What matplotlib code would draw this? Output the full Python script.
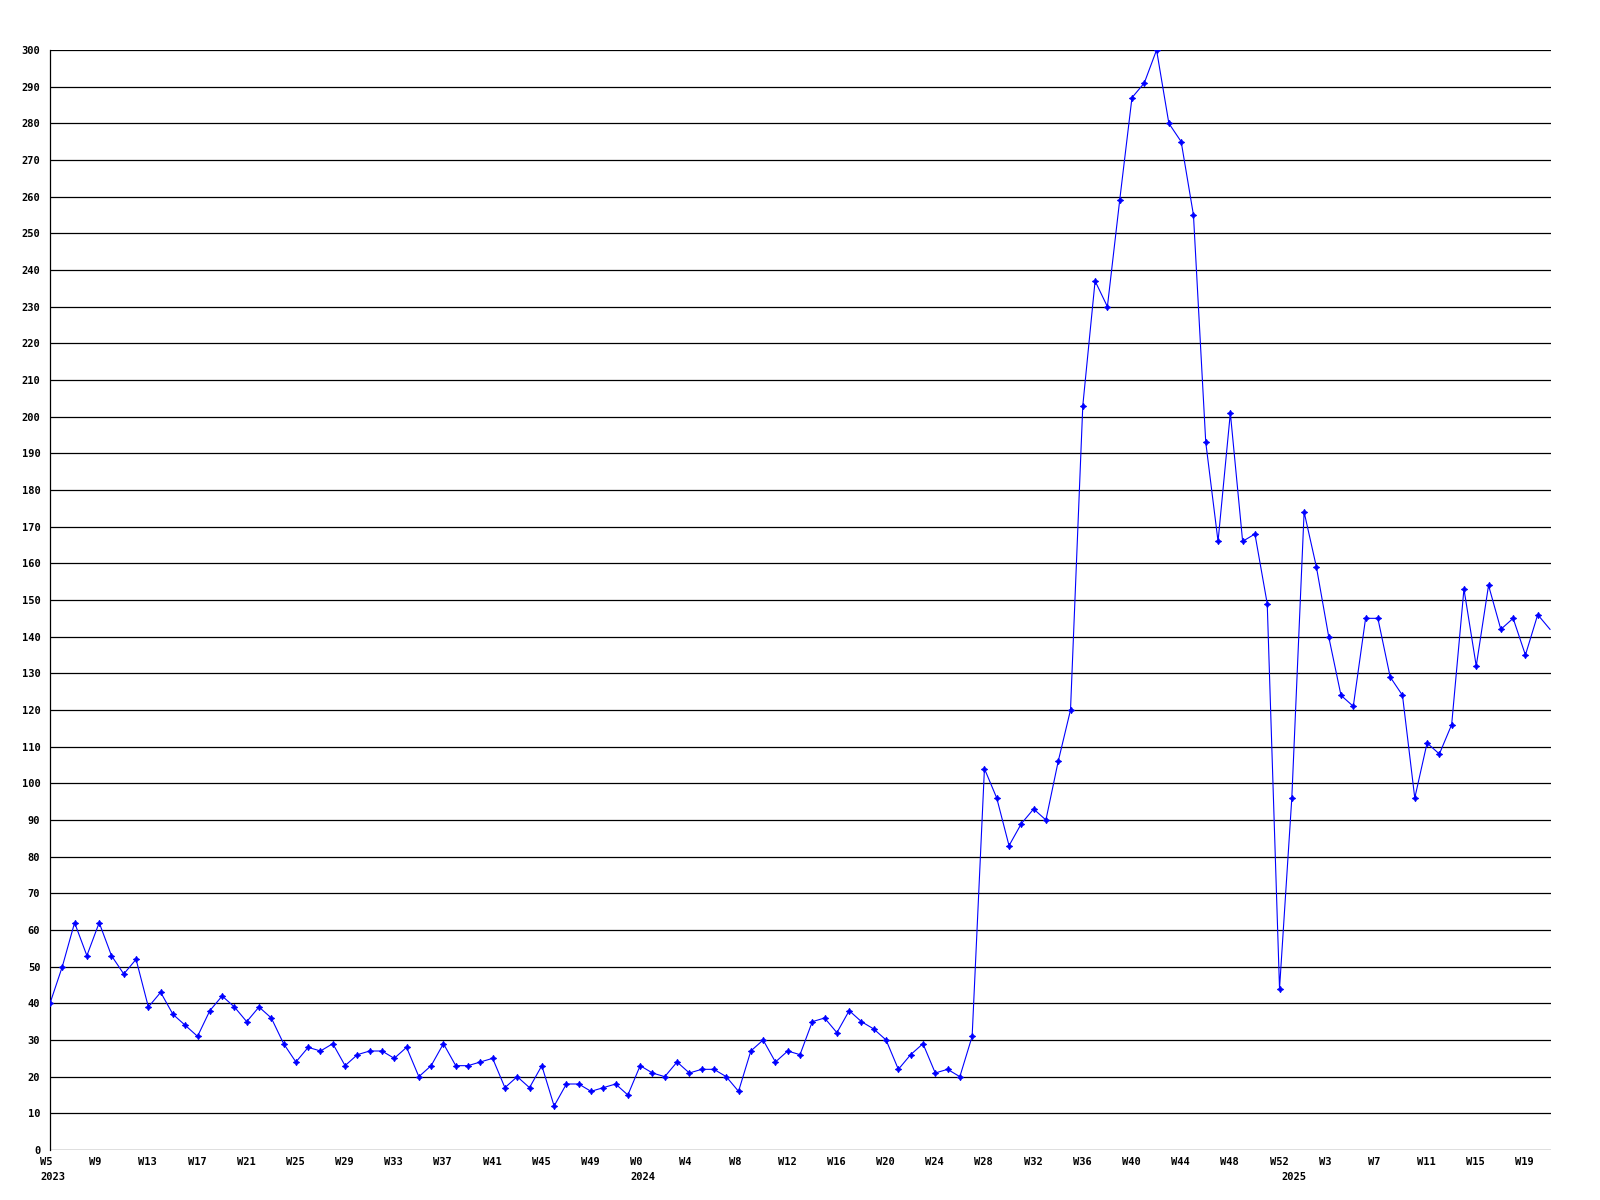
import matplotlib

matplotlib.use("Agg")
import matplotlib.pyplot as plt
from matplotlib.transforms import ScaledTranslation

# weekly values, W5 2023 .. W21 2025
weeks_2023 = list(range(5, 53))
weeks_2024 = list(range(0, 53))
weeks_2025 = list(range(0, 22))

values = [
    40, 50, 62, 53, 62, 53, 48, 52, 39, 43, 37, 34, 31, 38, 42, 39, 35, 39, 36, 29,
    24, 28, 27, 29, 23, 26, 27, 27, 25, 28, 20,
    23, 29, 23, 23, 24, 25, 17, 20, 17, 23, 12, 18, 18, 16, 17, 18, 15, 23, 21, 20,
    24, 21, 22, 22, 20, 16, 27, 30, 24, 27, 26, 35,
    36, 32, 38, 35, 33, 30, 22, 26, 29, 21, 22, 20, 31,
    104, 96, 83, 89, 93, 90, 106, 120, 203, 237, 230, 259, 287, 291, 300, 280, 275, 255,
    193, 166, 201, 166, 168, 149, 44, 96, 174, 159, 140, 124, 121, 145, 145, 129, 124,
    96, 111, 108, 116, 153, 132, 154, 142, 145, 135, 146, 142,
]

weeks = weeks_2023 + weeks_2024 + weeks_2025
years = [2023] * len(weeks_2023) + [2024] * len(weeks_2024) + [2025] * len(weeks_2025)
x = list(range(len(values)))

font = {"family": "DejaVu Sans Mono", "weight": "bold", "size": 7.5}

fig = plt.figure(figsize=(16, 12), dpi=100)
ax = fig.add_axes([50 / 1600, 50 / 1200, 1501 / 1600, 1100 / 1200])

for v in range(0, 301, 10):
    ax.axhline(v, color="black", linewidth=0.9, zorder=1)

ax.plot(x[:-1], values[:-1], color="#0000ff", linewidth=0.8, marker=(4, 1, 0),
        markersize=4.5, markeredgewidth=0.7, zorder=3)
ax.plot(x[-2:], values[-2:], color="#0000ff", linewidth=0.8, zorder=3)

ax.set_xlim(0, 122.08)
ax.set_ylim(0, 300)

for side in ["top", "right", "bottom"]:
    ax.spines[side].set_visible(False)
ax.spines["left"].set_linewidth(0.9)

ax.set_yticks(range(0, 301, 10))
ax.set_yticklabels([str(v) for v in range(0, 301, 10)], fontdict=font)
ax.tick_params(axis="y", length=0, pad=7)

ticks = list(range(0, 121, 4))
ax.set_xticks(ticks)
ax.set_xticklabels([f"W{weeks[i]}" for i in ticks], fontdict=font, ha="left")
ax.tick_params(axis="x", length=0, pad=5)
offset = ScaledTranslation(-10 / 100, 0, fig.dpi_scale_trans)
for lab in ax.get_xticklabels():
    lab.set_transform(lab.get_transform() + offset)

# year labels under the first week of each year
for i, yr in enumerate(years):
    if i == 0 or years[i - 1] != yr:
        ax.annotate(str(yr), xy=(i, 0), xycoords=("data", "axes fraction"),
                    xytext=(-10, -27), textcoords="offset pixels",
                    ha="left", va="center", **font)

fig.savefig("out.png", dpi=100, facecolor="white")
